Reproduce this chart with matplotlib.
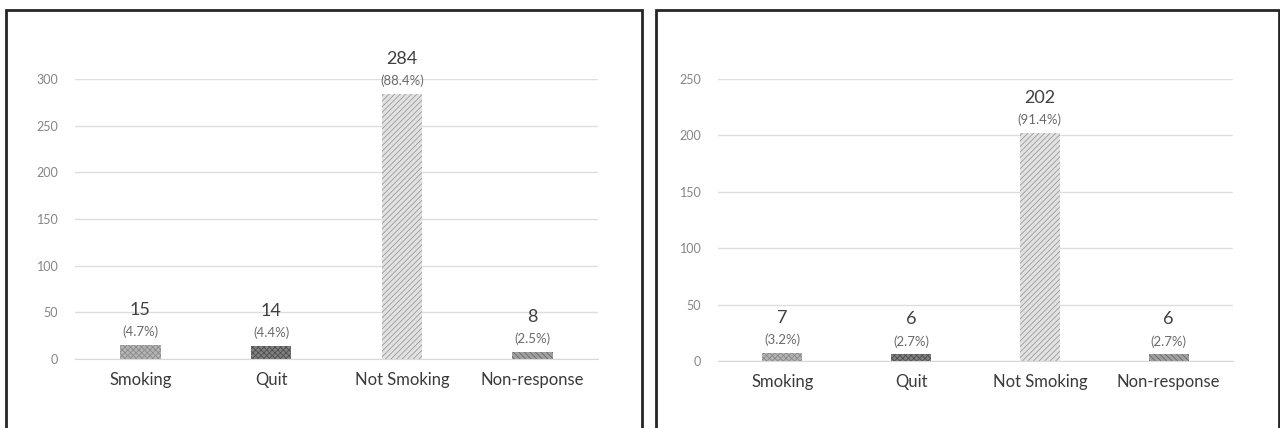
import matplotlib
matplotlib.use("Agg")
import matplotlib.pyplot as plt
from matplotlib.patches import Rectangle

categories = ["Smoking", "Quit", "Not Smoking", "Non-response"]

left_counts = [15, 14, 284, 8]
left_pcts = ["(4.7%)", "(4.4%)", "(88.4%)", "(2.5%)"]
left_ticks = [0, 50, 100, 150, 200, 250, 300]

right_counts = [7, 6, 202, 6]
right_pcts = ["(3.2%)", "(2.7%)", "(91.4%)", "(2.7%)"]
right_ticks = [0, 50, 100, 150, 200, 250]

plt.rcParams["font.family"] = ["Lato", "DejaVu Sans"]
plt.rcParams["hatch.linewidth"] = 0.6

W, H = 1280, 428
fig = plt.figure(figsize=(W / 100, H / 100), dpi=100)

# bar styles: face colour, hatch colour, hatch pattern
styles = [
    ("#b4b4b4", "#8a8a8a", "xxxxxx"),
    ("#7f7f7f", "#4f4f4f", "xxxxxx"),
    ("#e2e2e2", "#9a9a9a", "//////"),
    ("#a0a0a0", "#666666", "\\\\\\\\\\\\"),
]


def px_axes(x0, x1, y_top, y_bottom):
    return fig.add_axes([x0 / W, (H - y_bottom) / H, (x1 - x0) / W, (y_bottom - y_top) / H])


def draw_panel(ax, counts, pcts, ticks):
    x = list(range(len(categories)))
    for i, (c, s) in enumerate(zip(counts, styles)):
        ax.bar(x[i], c, width=0.31, color=s[0], edgecolor=s[1], hatch=s[2], linewidth=0, zorder=3)
        ax.annotate(pcts[i], (x[i], c), xytext=(0, 13), textcoords="offset pixels",
                    ha="center", va="center", fontsize=9.5, color="#6a6a6a")
        ax.annotate(str(c), (x[i], c), xytext=(0, 35), textcoords="offset pixels",
                    ha="center", va="center", fontsize=13, color="#404040")
    ax.set_xlim(-0.5, len(categories) - 0.5)
    ax.set_ylim(ticks[0], ticks[-1])
    ax.set_yticks(ticks)
    ax.set_xticks(x)
    ax.set_xticklabels(categories, fontsize=12, color="#3a3a3a")
    ax.tick_params(axis="x", length=0, pad=9)
    ax.tick_params(axis="y", length=0, pad=12, labelsize=9, labelcolor="#858585")
    ax.grid(axis="y", color="#dedede", linewidth=1, zorder=0)
    for side in ("top", "right", "left"):
        ax.spines[side].set_visible(False)
    ax.spines["bottom"].set_color("#d9d9d9")
    ax.spines["bottom"].set_zorder(4)
    ax.set_facecolor("none")


# panel frames
fig.patches.append(Rectangle((6 / W, -0.1), (642 - 6) / W, (H - 10) / H + 0.1,
                             transform=fig.transFigure, fill=False, edgecolor="#262626", linewidth=2))
fig.patches.append(Rectangle((656 / W, -0.1), (1279 - 656) / W, (H - 10) / H + 0.1,
                             transform=fig.transFigure, fill=False, edgecolor="#262626", linewidth=2))

ax1 = px_axes(75, 598, 79, 359)
draw_panel(ax1, left_counts, left_pcts, left_ticks)

ax2 = px_axes(718, 1233, 79, 361)
draw_panel(ax2, right_counts, right_pcts, right_ticks)

fig.savefig("out.png", dpi=100, facecolor="white")
